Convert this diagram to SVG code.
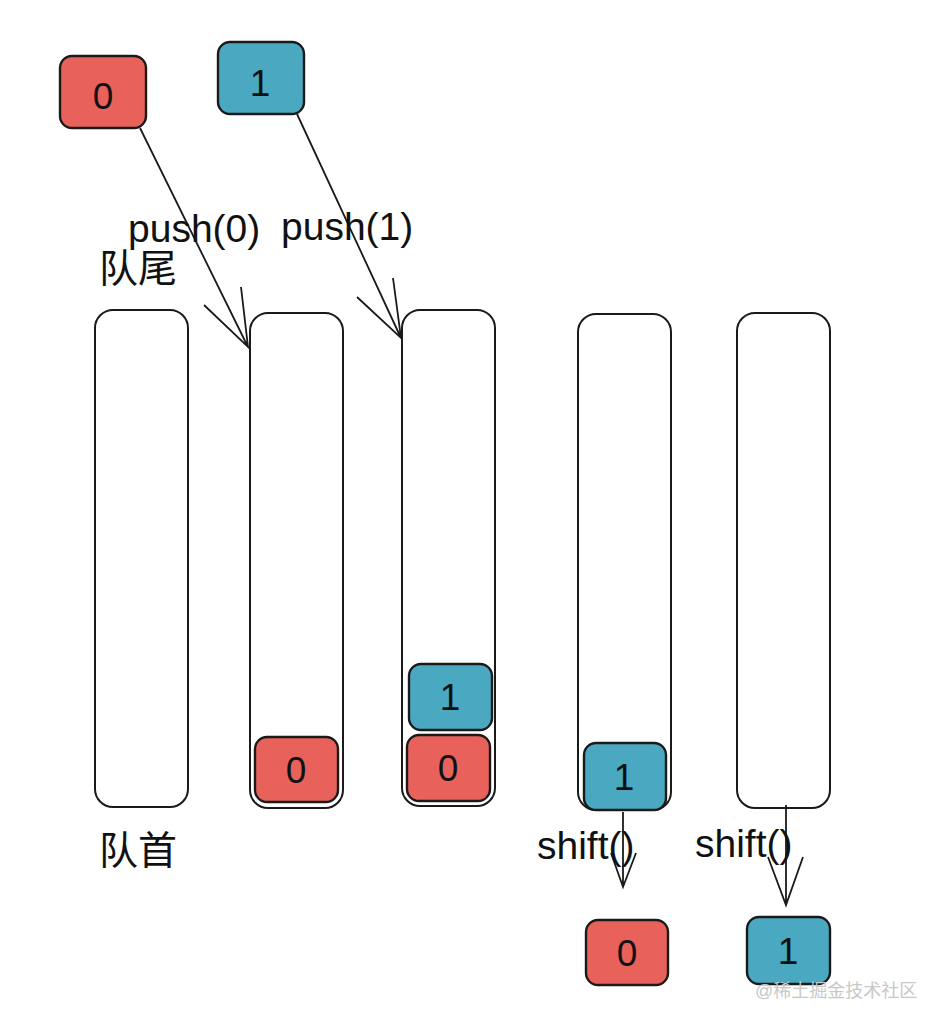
<svg xmlns="http://www.w3.org/2000/svg" width="942" height="1028" viewBox="0 0 942 1028">
<style>
.tube{fill:#fff;stroke:#1a1a1a;stroke-width:2}
.red{fill:#E8615B;stroke:#1a1a1a;stroke-width:2.4}
.blue{fill:#4AA8C0;stroke:#1a1a1a;stroke-width:2.4}
.num{font-family:"Liberation Sans",Arial,sans-serif;font-size:37px;fill:#111;text-anchor:middle}
.lbl{font-family:"Liberation Sans","Noto Sans CJK SC",sans-serif;font-size:39px;fill:#111}
.wm{font-family:"Liberation Sans","Noto Sans CJK SC",sans-serif;font-size:18px;fill:#c8c8c8}
.ln{stroke:#1a1a1a;stroke-width:1.8;fill:none}
</style>
<rect width="942" height="1028" fill="#fff"/>
<g id="tube1"><rect class="tube" x="95" y="310" width="93" height="497" rx="18"/></g>
<g id="tube2"><rect class="tube" x="250" y="313" width="93" height="495" rx="18"/></g>
<g id="tube3"><rect class="tube" x="402" y="310" width="93" height="496" rx="18"/></g>
<g id="tube4"><rect class="tube" x="578" y="314" width="93" height="496" rx="18"/></g>
<g id="tube5"><rect class="tube" x="737" y="313" width="93" height="495" rx="18"/></g>

<g id="top0"><rect class="red" x="60" y="56" width="86" height="72" rx="12"/><text class="num" x="103" y="109">0</text></g>
<g id="top1"><rect class="blue" x="218" y="42" width="86" height="72" rx="12"/><text class="num" x="260" y="96">1</text></g>
<g id="t2_0"><rect class="red" x="255" y="737" width="83" height="65" rx="12"/><text class="num" x="296" y="783">0</text></g>
<g id="t3_1"><rect class="blue" x="409" y="664" width="83" height="66" rx="12"/><text class="num" x="450" y="710">1</text></g>
<g id="t3_0"><rect class="red" x="407" y="735" width="83" height="66" rx="12"/><text class="num" x="448" y="781">0</text></g>
<g id="t4_1"><rect class="blue" x="584" y="743" width="82" height="67" rx="12"/><text class="num" x="624" y="790">1</text></g>
<g id="out0"><rect class="red" x="586" y="920" width="82" height="65" rx="12"/><text class="num" x="627" y="966">0</text></g>
<g id="out1"><rect class="blue" x="747" y="917" width="83" height="67" rx="12"/><text class="num" x="788" y="964">1</text></g>

<g id="connectors">
<path class="ln" d="M140,128 L248,347 M204,305 L248,347 L241,287"/>
<path class="ln" d="M297,114 L401,338 M357,297 L401,338 L393,278"/>
<path class="ln" d="M623,812 L623,887 M611,853 L623,887 L636,853"/>
<path class="ln" d="M786,805 L786,905 M768,857 L786,905 L803,857"/>
</g>

<g id="labels">
<text class="lbl" x="128" y="242">push(0)</text>
<text class="lbl" x="281" y="240">push(1)</text>
<text class="lbl" x="99" y="282">队尾</text>
<text class="lbl" x="99" y="864">队首</text>
<text class="lbl" x="537" y="859">shift()</text>
<text class="lbl" x="695" y="857">shift()</text>
<text class="wm" x="755" y="997">@稀土掘金技术社区</text>
</g>
</svg>
